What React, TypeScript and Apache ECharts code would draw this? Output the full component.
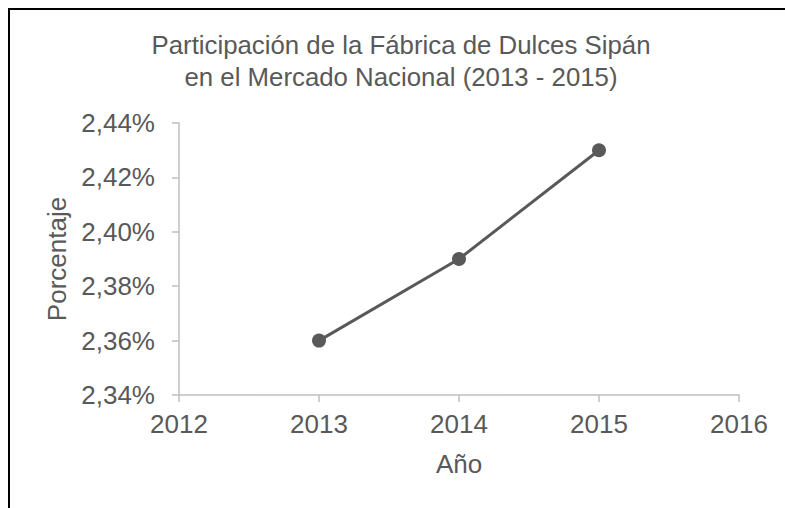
import React, { useEffect, useRef } from "react";
import * as echarts from "echarts";

const years = [2013, 2014, 2015];
const sharePct = [2.36, 2.39, 2.43];
const yTicksPct = [2.34, 2.36, 2.38, 2.4, 2.42, 2.44];
const xTicks = [2012, 2013, 2014, 2015, 2016];
const titleLines = [
  "Participación de la Fábrica de Dulces Sipán",
  "en el Mercado Nacional (2013 - 2015)",
];

const FONT = "'Liberation Sans', Arial, sans-serif";
const TXT = "#595959";
const AX = "#bfbfbf";

export default function App() {
  const ref = useRef<HTMLDivElement>(null);
  useEffect(() => {
    if (!ref.current) return;
    const chart = echarts.init(ref.current, null, { renderer: "svg" });
    // values in hundredths of a percent to keep ticks exact
    const toUnits = (v: number) => Math.round(v * 100);
    const yMin = toUnits(yTicksPct[0]);
    const yMax = toUnits(yTicksPct[yTicksPct.length - 1]);
    const yInt = toUnits(yTicksPct[1]) - toUnits(yTicksPct[0]);
    chart.setOption({
      animation: false,
      backgroundColor: "#ffffff",
      title: {
        text: titleLines.join("\n"),
        left: 396,
        top: 24,
        textAlign: "center",
        textStyle: {
          fontFamily: FONT,
          fontSize: 25.8,
          fontWeight: "normal",
          color: TXT,
          lineHeight: 32,
        },
      },
      graphic: [
        { type: "rect", shape: { x: 8, y: 8, width: 2, height: 500 }, style: { fill: "#000" }, silent: true },
        { type: "rect", shape: { x: 8, y: 8, width: 777, height: 2 }, style: { fill: "#000" }, silent: true },
      ],
      grid: { left: 179, right: 46, top: 123, bottom: 113, containLabel: false },
      xAxis: {
        type: "value",
        min: xTicks[0],
        max: xTicks[xTicks.length - 1],
        interval: 1,
        name: "Año",
        nameLocation: "middle",
        nameGap: 56,
        nameTextStyle: { fontFamily: FONT, fontSize: 26, color: TXT },
        axisLine: { show: true, lineStyle: { color: AX, width: 1.5 } },
        axisTick: { show: true, length: 7, lineStyle: { color: AX, width: 1.5 } },
        axisLabel: {
          fontFamily: FONT,
          fontSize: 26,
          color: TXT,
          margin: 16,
          formatter: (v: number) => String(Math.round(v)),
        },
        splitLine: { show: false },
      },
      yAxis: {
        type: "value",
        min: yMin,
        max: yMax,
        interval: yInt,
        name: "Porcentaje",
        nameLocation: "middle",
        nameGap: 106,
        nameTextStyle: { fontFamily: FONT, fontSize: 26, color: TXT },
        axisLine: { show: true, lineStyle: { color: AX, width: 1.5 } },
        axisTick: { show: true, length: 7, lineStyle: { color: AX, width: 1.5 } },
        axisLabel: {
          fontFamily: FONT,
          fontSize: 26,
          color: TXT,
          margin: 24,
          formatter: (v: number) => (v / 100).toFixed(2).replace(".", ",") + "%",
        },
        splitLine: { show: false },
      },
      series: [
        {
          type: "line",
          data: years.map((y, i) => [y, toUnits(sharePct[i])]),
          symbol: "circle",
          symbolSize: 14,
          lineStyle: { color: TXT, width: 3 },
          itemStyle: { color: TXT },
        },
      ],
    });
    return () => chart.dispose();
  }, []);
  return (
    <div
      ref={ref}
      style={{ position: "fixed", left: 0, top: 0, width: 785, height: 508 }}
    />
  );
}
